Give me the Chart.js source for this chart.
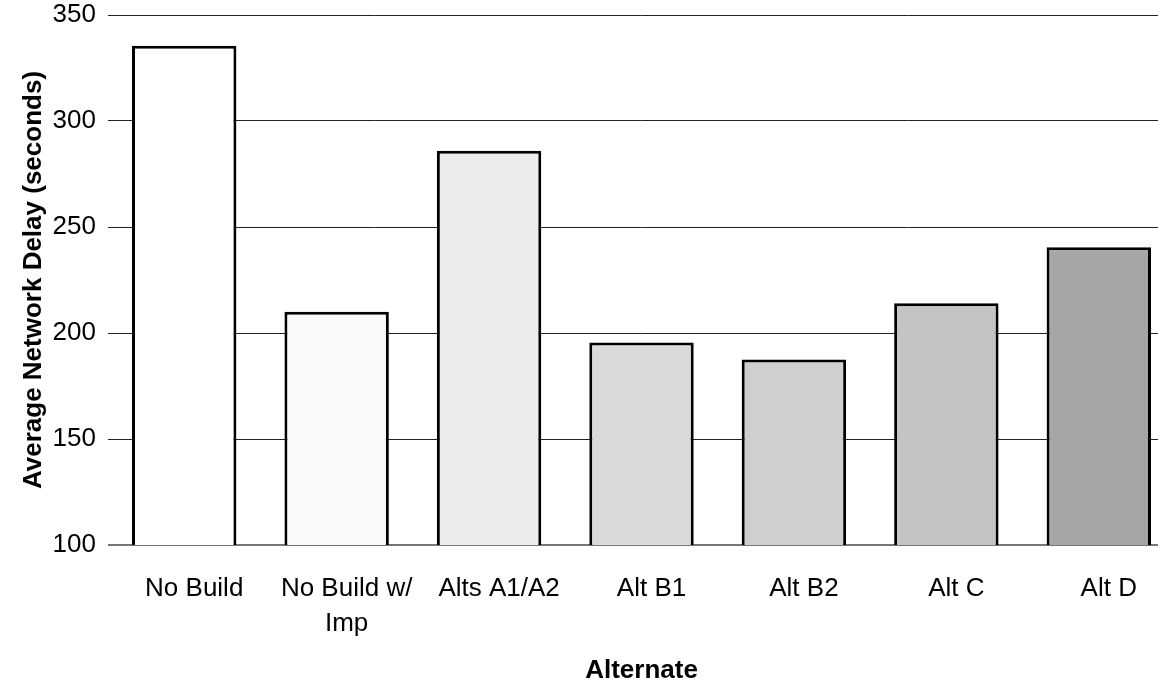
<!DOCTYPE html>
<html>
<head>
<meta charset="utf-8">
<script src="https://cdn.jsdelivr.net/npm/chart.js@4"></script>
<style>
  html, body { margin: 0; padding: 0; background: #fff; overflow: hidden; }
  /* plot runs a little past the right edge, like the cropped original */
  #wrap { width: 1183px; height: 681px; position: relative; }
</style>
</head>
<body>
<div id="wrap"><canvas id="delayChart"></canvas></div>
<script>
const alternates = ['No Build', ['No Build w/', 'Imp'], 'Alts A1/A2', 'Alt B1', 'Alt B2', 'Alt C', 'Alt D'];
const avgDelay = [335.5, 210, 286, 195.5, 187.5, 214, 240.5];
const barGreys = ['#ffffff', '#f9f9f9', '#ececec', '#dadada', '#cfcfcf', '#c4c4c4', '#a6a6a6'];
const Y_MIN = 100;
const Y_MAX = 350;
const Y_STEP = 50;

const FONT = '"Liberation Sans", Arial, sans-serif';

function initDelayChart() {
  const ctx = document.getElementById('delayChart').getContext('2d');
  return new Chart(ctx, {
    type: 'bar',
    data: {
      labels: alternates,
      datasets: [{
        data: avgDelay,
        backgroundColor: barGreys,
        borderColor: '#000',
        borderWidth: 3,
        borderSkipped: false,
        categoryPercentage: 1,
        barPercentage: 0.685
      }]
    },
    options: {
      responsive: true,
      maintainAspectRatio: false,
      animation: false,
      layout: { padding: { left: 14, top: 15, right: 8, bottom: 0 } },
      plugins: {
        legend: { display: false },
        tooltip: { enabled: false }
      },
      scales: {
        x: {
          afterFit: scale => { scale.height = 136; },
          grid: { display: false, drawTicks: false },
          border: { display: false },
          ticks: {
            color: '#000',
            font: { family: FONT, size: 26, lineHeight: 1.35 },
            padding: 26,
            labelOffset: 10,
            maxRotation: 0,
            autoSkip: false
          },
          title: {
            display: true,
            text: 'Alternate',
            color: '#000',
            font: { family: FONT, size: 26, weight: 'bold', lineHeight: 0.8 },
            padding: { top: 0, bottom: 0 }
          }
        },
        y: {
          min: Y_MIN,
          max: Y_MAX,
          afterFit: scale => {
            scale.width = 94;
            // drop the extra room Chart.js keeps above the top tick label
            scale.paddingTop = 0;
            scale.paddingBottom = 0;
          },
          border: { display: false },
          grid: {
            drawTicks: false,
            color: c => c.tick && c.tick.value === Y_MIN ? '#777' : '#222',
            lineWidth: c => c.tick && c.tick.value === Y_MIN ? 2 : 1
          },
          ticks: {
            stepSize: Y_STEP,
            color: '#000',
            font: { family: FONT, size: 26 },
            padding: 12
          },
          title: {
            display: true,
            text: 'Average Network Delay (seconds)',
            color: '#000',
            font: { family: FONT, size: 26, weight: 'bold' },
            padding: { top: 4, bottom: 0 }
          }
        }
      }
    }
  });
}

document.addEventListener('DOMContentLoaded', () => {
  initDelayChart();
});
</script>
</body>
</html>
